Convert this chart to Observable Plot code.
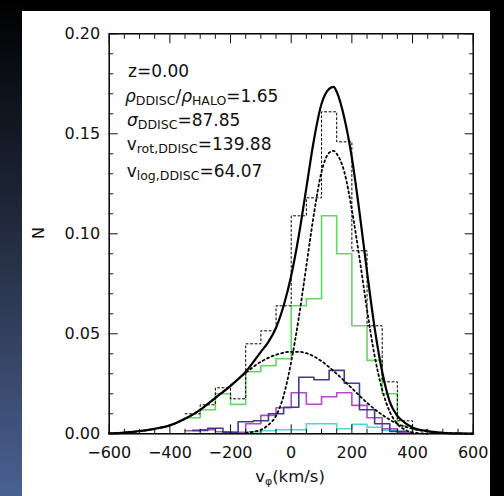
<!DOCTYPE html>
<html><head><meta charset="utf-8">
<script src="https://cdn.jsdelivr.net/npm/d3@7"></script>
<script src="https://cdn.jsdelivr.net/npm/@observablehq/plot@0.6"></script>
<style>
html,body{margin:0;padding:0;width:504px;height:496px;overflow:hidden;background:#000;}
#side{position:absolute;left:0;top:0;width:22px;height:496px;background:linear-gradient(to bottom,#000 0%,#0d1119 18%,#1e2638 42%,#34415f 68%,#4a6093 100%);}
#panel{position:absolute;left:22px;top:11px;width:468px;height:485px;background:#fff;}
#panel svg{display:block;}
</style></head><body><div id="side"></div><div id="panel"></div>
<script>
// ---- tick values ----
const xTicks = [-600, -400, -200, 0, 200, 400, 600];
const xMinor = [-550,-500,-450,-350,-300,-250,-150,-100,-50,50,100,150,250,300,350,450,500,550];
const yTicks = [0, 0.05, 0.10, 0.15, 0.20];
const yMinor = [0.01,0.02,0.03,0.04,0.06,0.07,0.08,0.09,0.11,0.12,0.13,0.14,0.16,0.17,0.18,0.19];

// ---- histograms (left bin edge, 50 km/s bins) ----
const totalLeft = [-350,-300,-250,-200,-150,-100,-50,0,50,100,150,200,250,300,350,400];
const totalN    = [0.010,0.0145,0.023,0.0175,0.045,0.0515,0.064,0.109,0.118,0.161,0.146,0.0915,0.054,0.026,0.0065,0.002];
const greenLeft = [-350,-300,-250,-200,-150,-100,-50,0,50,100,150,200,250,300,350];
const greenN    = [0.008,0.012,0.020,0.0147,0.031,0.034,0.0375,0.064,0.0675,0.109,0.090,0.054,0.0367,0.020,0.004];
const blueLeft  = [-325,-275,-225,-175,-125,-75,-25,25,75,125,175,225,275,325];
const blueN     = [0.0017,0.0028,0.0008,0.006,0.0065,0.010,0.0133,0.0283,0.027,0.0317,0.0253,0.012,0.005,0.0012];
const magLeft   = [-350,-300,-250,-200,-150,-100,-50,0,50,100,150,200,250,300,350];
const magN      = [0.0015,0.002,0.001,0.0008,0.005,0.0092,0.013,0.0205,0.0148,0.0185,0.0205,0.0142,0.008,0.0025,0.0008];
const cyanLeft  = [-200,-150,-100,-50,0,50,100,150,200,250,300];
const cyanN     = [0.0005,0.001,0.0015,0.002,0.002,0.005,0.005,0.0025,0.0047,0.0033,0.0017];

// ---- fitted curves ----
const solidV = [-600,-550,-500,-450,-400,-350,-300,-250,-200,-150,-100,-75,-50,-25,0,25,50,75,100,125,140,150,175,200,225,250,275,300,325,350,375,400,450,500,550,600];
const solidN = [0.0002,0.0006,0.0013,0.0025,0.0042,0.0075,0.012,0.018,0.024,0.031,0.041,0.046,0.053,0.064,0.079,0.099,0.123,0.147,0.165,0.1725,0.1735,0.171,0.158,0.138,0.111,0.081,0.053,0.031,0.016,0.009,0.0055,0.0032,0.0013,0.0005,0.0002,0.0001];
const narrowV = [-150,-100,-75,-50,-25,0,25,50,75,100,125,140,150,175,200,225,250,275,300,325,350,375,400,450];
const narrowN = [0.0005,0.002,0.0045,0.009,0.019,0.036,0.058,0.084,0.110,0.131,0.1405,0.1415,0.140,0.131,0.112,0.088,0.062,0.039,0.022,0.011,0.005,0.002,0.0007,0.0001];
const broadV = [-600,-550,-500,-450,-400,-350,-300,-250,-200,-150,-100,-50,0,25,50,100,150,200,250,300,350,400,450,500,550,600];
const broadN = [0.0002,0.0006,0.0013,0.0025,0.0042,0.0075,0.012,0.018,0.024,0.0305,0.036,0.0395,0.041,0.041,0.0403,0.0363,0.030,0.0228,0.0155,0.0095,0.005,0.0025,0.0012,0.0005,0.0002,0.0001];

const W = 50;
function hist(lefts, vals) {
  const rows = lefts.map((l, i) => ({x: l, y: vals[i]}));
  rows.push({x: lefts[lefts.length - 1] + W, y: vals[vals.length - 1]});
  return rows;
}
function curve(vs, ns) { return vs.map((v, i) => ({x: v, y: ns[i]})); }

const fmtX = d => d < 0 ? "\u2212" + (-d) : String(d);
const fmtY = d3.format(".2f");
const font = "DejaVu Sans, Verdana, sans-serif";

const plot = Plot.plot({
  width: 468, height: 485,
  marginLeft: 86.7, marginRight: 17.3, marginTop: 22.3, marginBottom: 62.7,
  style: {background: "transparent", fontFamily: font, color: "#111"},
  x: {domain: [-600, 600], label: null},
  y: {domain: [0, 0.2], label: null},
  marks: [
    Plot.line(hist(greenLeft, greenN), {x: "x", y: "y", curve: "step-after", stroke: "#62d862", strokeWidth: 1.6}),
    Plot.line(hist(cyanLeft, cyanN), {x: "x", y: "y", curve: "step-after", stroke: "#4fd6d6", strokeWidth: 1.6}),
    Plot.line(hist(magLeft, magN), {x: "x", y: "y", curve: "step-after", stroke: "#b04cc4", strokeWidth: 1.6}),
    Plot.line(hist(blueLeft, blueN), {x: "x", y: "y", curve: "step-after", stroke: "#3c3c8e", strokeWidth: 1.6}),
    Plot.line(hist(totalLeft, totalN), {x: "x", y: "y", curve: "step-after", stroke: "#000", strokeWidth: 1, strokeDasharray: "2,2.5"}),
    Plot.line(curve(broadV, broadN), {x: "x", y: "y", curve: "monotone-x", stroke: "#000", strokeWidth: 1.8, strokeDasharray: "2,3"}),
    Plot.line(curve(narrowV, narrowN), {x: "x", y: "y", curve: "monotone-x", stroke: "#000", strokeWidth: 1.8, strokeDasharray: "2,3"}),
    Plot.line(curve(solidV, solidN), {x: "x", y: "y", curve: "monotone-x", stroke: "#000", strokeWidth: 2.2}),
    Plot.frame({stroke: "#000", strokeWidth: 1.5}),
    // inward ticks on all sides
    Plot.axisX(xTicks, {anchor: "bottom", tickSize: 9, dy: -9, tickFormat: () => "", label: null}),
    Plot.axisX(xMinor, {anchor: "bottom", tickSize: 4.5, dy: -4.5, tickFormat: () => "", label: null}),
    Plot.axisX(xTicks, {anchor: "top", tickSize: 9, dy: 9, tickFormat: () => "", label: null}),
    Plot.axisX(xMinor, {anchor: "top", tickSize: 4.5, dy: 4.5, tickFormat: () => "", label: null}),
    Plot.axisY(yTicks, {anchor: "left", tickSize: 9, dx: 9, tickFormat: () => "", label: null}),
    Plot.axisY(yMinor, {anchor: "left", tickSize: 4.5, dx: 4.5, tickFormat: () => "", label: null}),
    Plot.axisY(yTicks, {anchor: "right", tickSize: 9, dx: -9, tickFormat: () => "", label: null}),
    Plot.axisY(yMinor, {anchor: "right", tickSize: 4.5, dx: -4.5, tickFormat: () => "", label: null}),
    // tick labels
    Plot.axisX(xTicks, {anchor: "bottom", tickSize: 0, tickPadding: 13, tickFormat: fmtX, fontSize: 16, label: null, fill: "#111"}),
    Plot.axisY(yTicks, {anchor: "left", tickSize: 0, tickPadding: 9, tickFormat: fmtY, fontSize: 16, label: null, fill: "#111"})
  ]
});
document.getElementById("panel").appendChild(plot);

// ---- annotations ----
const svg = d3.select(plot);
const g = svg.append("g").attr("font-family", font).attr("fill", "#111").attr("text-anchor", "start");
function rich(x, y, parts, size, subSize) {
  const t = g.append("text").attr("x", x).attr("y", y).attr("font-size", size || 17).attr("text-anchor", "start");
  let shift = 0;
  for (const p of parts) {
    const s = t.append("tspan").text(p.t);
    const want = p.sub ? 3 : 0;
    if (want !== shift) { s.attr("dy", want - shift); shift = want; }
    if (p.sub) s.attr("font-size", subSize || 12.5);
    if (p.it) s.attr("font-style", "italic");
  }
  return t;
}
rich(106, 65.7, [{t: "z=0.00"}]);
rich(103, 90.7, [{t: "\u03c1", it: true}, {t: "DDISC", sub: true}, {t: "/"}, {t: "\u03c1", it: true}, {t: "HALO", sub: true}, {t: "=1.65"}]);
rich(105, 115, [{t: "\u03c3", it: true}, {t: "DDISC", sub: true}, {t: "=87.85"}]);
rich(104.7, 139, [{t: "v"}, {t: "rot,DDISC", sub: true}, {t: "=139.88"}]);
rich(104.7, 165.7, [{t: "v"}, {t: "log,DDISC", sub: true}, {t: "=64.07"}]);
// axis titles
rich(268, 471, [{t: "v"}, {t: "\u03c6", sub: true}, {t: "(km/s)"}], 16.5, 11).attr("text-anchor", "middle");
g.append("text").attr("transform", "translate(22,222) rotate(-90)")
  .attr("text-anchor", "middle").attr("font-size", 16).text("N");
</script>
</body></html>
